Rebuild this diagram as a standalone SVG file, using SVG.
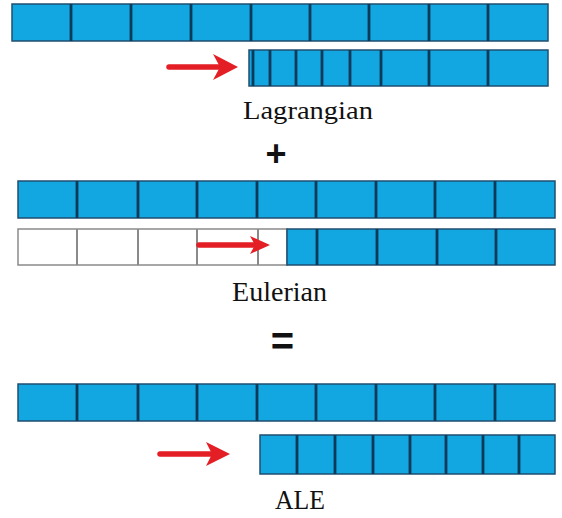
<svg xmlns="http://www.w3.org/2000/svg" width="562" height="518" viewBox="0 0 562 518">
<style>
.bar{fill:#12a7e0;stroke:#1f4f70;stroke-width:1.5}
.wbar{fill:#ffffff;stroke:#8a8a8a;stroke-width:1.5}
.div{stroke:#0e3a5a;stroke-width:2.8}
.gdiv{stroke:#8a8a8a;stroke-width:2}
.shaft{stroke:#e31e24;stroke-width:5.5;stroke-linecap:round}
.head{fill:#e31e24}
.lbl{font-family:"Liberation Serif","Times New Roman",serif;fill:#111}
.op{font-family:"Liberation Sans",Arial,sans-serif;font-weight:bold;fill:#111}
</style>
<rect width="562" height="518" fill="#fff"/>

<g id="lagrangian-fixed">
<rect class="bar" x="12" y="4" width="536" height="37"/>
<path class="div" d="M71,4V41M131,4V41M191,4V41M251,4V41M310,4V41M369,4V41M429,4V41M488,4V41"/>
</g>
<g id="lagrangian-moving">
<rect class="bar" x="249" y="50" width="299" height="36"/>
<path class="div" d="M253,50V86M270,50V86M296,50V86M322,50V86M350,50V86M381,50V86M429,50V86M488,50V86"/>
</g>
<text id="lagrangian-label" class="lbl" x="308" y="119" font-size="26" text-anchor="middle" textLength="130" lengthAdjust="spacingAndGlyphs">Lagrangian</text>
<text id="plus" class="op" x="276" y="166" font-size="36" text-anchor="middle">+</text>

<g id="eulerian-mesh">
<rect class="bar" x="18" y="181" width="537" height="37"/>
<path class="div" d="M77,181V218M138,181V218M197,181V218M257,181V218M316,181V218M376,181V218M435,181V218M495,181V218"/>
</g>
<g id="eulerian-material">
<rect class="wbar" x="18" y="229" width="269" height="36"/>
<path class="gdiv" d="M77,229V265M138,229V265M197,229V265M258,229V265"/>
<rect class="bar" x="287" y="229" width="268" height="36"/>
<path class="div" d="M317,229V265M377,229V265M437,229V265M496,229V265"/>
</g>
<text id="eulerian-label" class="lbl" x="279.5" y="301" font-size="27" text-anchor="middle" textLength="95" lengthAdjust="spacingAndGlyphs">Eulerian</text>
<text id="equals" class="op" x="282.5" y="355" font-size="40" text-anchor="middle">=</text>

<g id="ale-fixed">
<rect class="bar" x="18" y="384" width="537" height="37"/>
<path class="div" d="M77,384V421M138,384V421M197,384V421M257,384V421M316,384V421M376,384V421M435,384V421M495,384V421"/>
</g>
<g id="ale-moving">
<rect class="bar" x="260" y="435" width="295" height="39"/>
<path class="div" d="M297,435V474M335,435V474M373,435V474M410,435V474M446,435V474M483,435V474M519,435V474"/>
</g>
<text id="ale-label" class="lbl" x="300" y="509" font-size="27" text-anchor="middle" textLength="50" lengthAdjust="spacingAndGlyphs">ALE</text>

<g id="connectors">
<line class="shaft" x1="169" y1="67" x2="226" y2="67"/>
<path class="head" d="M213,54 L238,67 L213,80 L220,67 Z"/>
<line class="shaft" x1="199" y1="245" x2="261" y2="245"/>
<path class="head" d="M250,236 L270,245 L250,254 L255,245 Z"/>
<line class="shaft" x1="160" y1="454" x2="219" y2="454"/>
<path class="head" d="M206,442 L230,454 L206,466 L212,454 Z"/>
</g>
</svg>
